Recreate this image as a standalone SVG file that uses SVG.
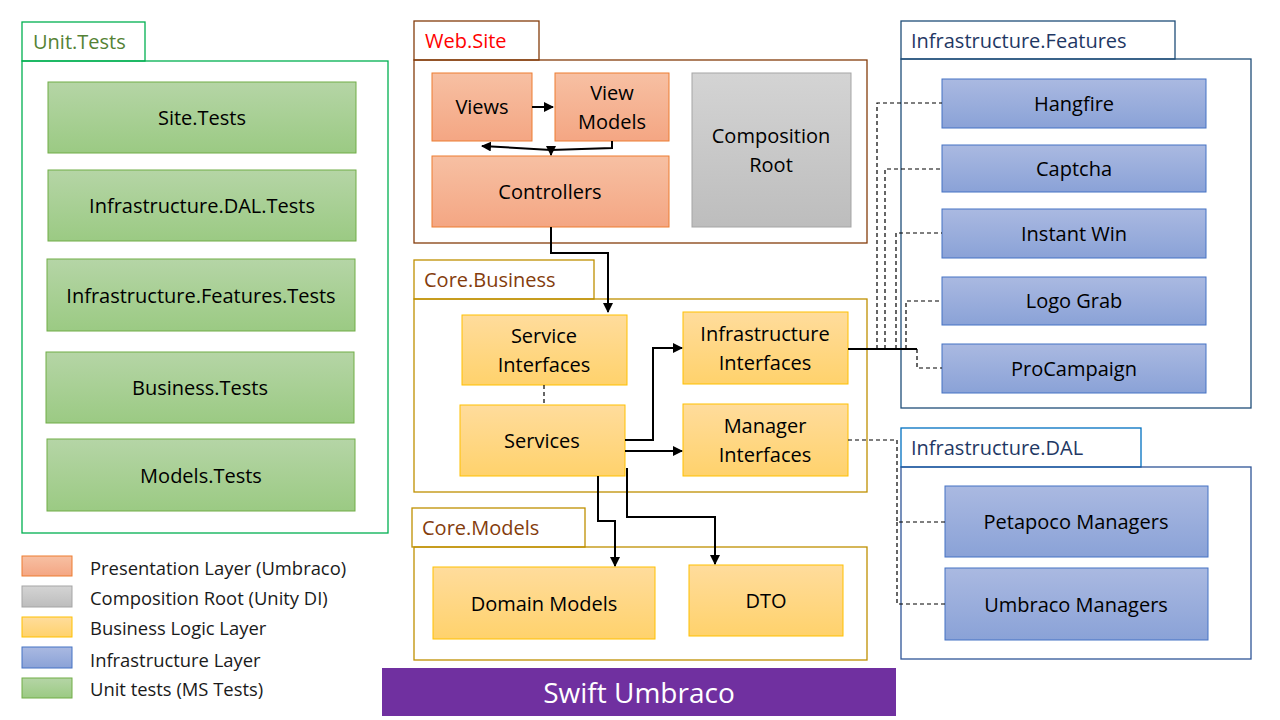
<svg xmlns="http://www.w3.org/2000/svg" width="1280" height="720" viewBox="0 0 1280 720">
<defs>
<linearGradient id="gGreen" x1="0" y1="0" x2="0" y2="1"><stop offset="0" stop-color="#b5d5a6"/><stop offset="1" stop-color="#9bca83"/></linearGradient>
<linearGradient id="gOrange" x1="0" y1="0" x2="0" y2="1"><stop offset="0" stop-color="#f7c0a3"/><stop offset="1" stop-color="#f4a683"/></linearGradient>
<linearGradient id="gGray" x1="0" y1="0" x2="0" y2="1"><stop offset="0" stop-color="#d4d4d4"/><stop offset="1" stop-color="#bdbdbd"/></linearGradient>
<linearGradient id="gYellow" x1="0" y1="0" x2="0" y2="1"><stop offset="0" stop-color="#ffdc9c"/><stop offset="1" stop-color="#ffd26c"/></linearGradient>
<linearGradient id="gBlue" x1="0" y1="0" x2="0" y2="1"><stop offset="0" stop-color="#aab9e1"/><stop offset="1" stop-color="#8aa2d7"/></linearGradient>
<marker id="arr" viewBox="0 0 10 10" refX="9" refY="5" markerWidth="5" markerHeight="5" orient="auto"><path d="M0,0 L10,5 L0,10 z" fill="#000"/></marker>
</defs>
<style>
text{font-family:"Open Sans","Noto Sans","Liberation Sans",sans-serif}
.lbl{font-size:20px;fill:#000;text-anchor:middle;dominant-baseline:central}
.tab{font-size:20px;dominant-baseline:central}
.leg{font-size:18.4px;fill:#1a1a1a;dominant-baseline:central}
.green{fill:url(#gGreen);stroke:#70ad47;stroke-width:1}
.orange{fill:url(#gOrange);stroke:#ed7d31;stroke-width:1}
.gray{fill:url(#gGray);stroke:#a5a5a5;stroke-width:1}
.yellow{fill:url(#gYellow);stroke:#ffc000;stroke-width:1}
.blue{fill:url(#gBlue);stroke:#4472c4;stroke-width:1}
.solid{fill:none;stroke:#000;stroke-width:2}
.dash{fill:none;stroke:#000;stroke-width:1.2;stroke-dasharray:4 3}
</style>
<rect width="1280" height="720" fill="#fff"/>

<!-- Unit.Tests container -->
<g id="unit-tests">
<rect x="22" y="22" width="123" height="39" fill="#fff" stroke="#00b050" stroke-width="1.3"/>
<rect x="22" y="61" width="366" height="472" fill="none" stroke="#00b050" stroke-width="1.3"/>
<text class="tab" x="33" y="41" fill="#548235">Unit.Tests</text>
</g>
<g id="site-tests"><rect class="green" x="48" y="82" width="308" height="71"/><text class="lbl" x="202" y="117">Site.Tests</text></g>
<g id="dal-tests"><rect class="green" x="48" y="170" width="308" height="71"/><text class="lbl" x="202" y="205">Infrastructure.DAL.Tests</text></g>
<g id="features-tests"><rect class="green" x="47" y="259" width="308" height="72"/><text class="lbl" x="201" y="295">Infrastructure.Features.Tests</text></g>
<g id="business-tests"><rect class="green" x="46" y="352" width="308" height="71"/><text class="lbl" x="200" y="387">Business.Tests</text></g>
<g id="models-tests"><rect class="green" x="47" y="439" width="308" height="72"/><text class="lbl" x="201" y="475">Models.Tests</text></g>

<!-- Web.Site container -->
<g id="web-site">
<rect x="414" y="21" width="125" height="39" fill="#fff" stroke="#843c0c" stroke-width="1.3"/>
<rect x="414" y="60" width="453" height="183" fill="none" stroke="#843c0c" stroke-width="1.3"/>
<text class="tab" x="425" y="40" fill="#ff0000">Web.Site</text>
</g>
<g id="views"><rect class="orange" x="432" y="73" width="100" height="68"/><text class="lbl" x="482" y="106">Views</text></g>
<g id="view-models"><rect class="orange" x="555" y="73" width="114" height="68"/><text class="lbl" x="612" y="92">View</text><text class="lbl" x="612" y="121">Models</text></g>
<g id="controllers"><rect class="orange" x="432" y="156" width="237" height="71"/><text class="lbl" x="550" y="191">Controllers</text></g>
<g id="composition-root"><rect class="gray" x="692" y="73" width="159" height="154"/><text class="lbl" x="771" y="135">Composition</text><text class="lbl" x="771" y="164">Root</text></g>

<!-- Core.Business container -->
<g id="core-business">
<rect x="414" y="260" width="180" height="39" fill="#fff" stroke="#bf9000" stroke-width="1.3"/>
<rect x="414" y="299" width="453" height="193" fill="none" stroke="#bf9000" stroke-width="1.3"/>
<text class="tab" x="424" y="279" fill="#843c0c">Core.Business</text>
</g>
<g id="service-interfaces"><rect class="yellow" x="462" y="315" width="165" height="70"/><text class="lbl" x="544" y="335">Service</text><text class="lbl" x="544" y="364">Interfaces</text></g>
<g id="services"><rect class="yellow" x="460" y="405" width="165" height="71"/><text class="lbl" x="542" y="440">Services</text></g>
<g id="infrastructure-interfaces"><rect class="yellow" x="683" y="312" width="165" height="72"/><text class="lbl" x="765" y="333">Infrastructure</text><text class="lbl" x="765" y="362">Interfaces</text></g>
<g id="manager-interfaces"><rect class="yellow" x="683" y="404" width="165" height="72"/><text class="lbl" x="765" y="425">Manager</text><text class="lbl" x="765" y="454">Interfaces</text></g>

<!-- Core.Models container -->
<g id="core-models">
<rect x="412" y="508" width="173" height="39" fill="#fff" stroke="#bf9000" stroke-width="1.3"/>
<rect x="414" y="547" width="453" height="113" fill="none" stroke="#bf9000" stroke-width="1.3"/>
<text class="tab" x="422" y="527" fill="#843c0c">Core.Models</text>
</g>
<g id="domain-models"><rect class="yellow" x="433" y="567" width="222" height="72"/><text class="lbl" x="544" y="603">Domain Models</text></g>
<g id="dto"><rect class="yellow" x="689" y="565" width="154" height="71"/><text class="lbl" x="766" y="600">DTO</text></g>

<!-- Infrastructure.Features container -->
<g id="infrastructure-features">
<rect x="901" y="21" width="274" height="38" fill="#fff" stroke="#1f4e79" stroke-width="1.3"/>
<rect x="901" y="59" width="350" height="349" fill="none" stroke="#1f4e79" stroke-width="1.3"/>
<text class="tab" x="911" y="40" fill="#1f3864">Infrastructure.Features</text>
</g>
<g id="hangfire"><rect class="blue" x="942" y="79" width="264" height="49"/><text class="lbl" x="1074" y="103">Hangfire</text></g>
<g id="captcha"><rect class="blue" x="942" y="145" width="264" height="47"/><text class="lbl" x="1074" y="168">Captcha</text></g>
<g id="instant-win"><rect class="blue" x="942" y="209" width="264" height="49"/><text class="lbl" x="1074" y="233">Instant Win</text></g>
<g id="logo-grab"><rect class="blue" x="942" y="277" width="264" height="48"/><text class="lbl" x="1074" y="300">Logo Grab</text></g>
<g id="procampaign"><rect class="blue" x="942" y="344" width="264" height="49"/><text class="lbl" x="1074" y="368">ProCampaign</text></g>

<!-- Infrastructure.DAL container -->
<g id="infrastructure-dal">
<rect x="901" y="428" width="240" height="39" fill="#fff" stroke="#0070c0" stroke-width="1.3"/>
<rect x="901" y="467" width="350" height="192" fill="none" stroke="#2f5597" stroke-width="1.3"/>
<text class="tab" x="911" y="447" fill="#1f3864">Infrastructure.DAL</text>
</g>
<g id="petapoco-managers"><rect class="blue" x="945" y="486" width="263" height="71"/><text class="lbl" x="1076" y="521">Petapoco Managers</text></g>
<g id="umbraco-managers"><rect class="blue" x="945" y="568" width="263" height="72"/><text class="lbl" x="1076" y="604">Umbraco Managers</text></g>

<!-- Connectors -->
<g id="connectors">
<path class="solid" d="M532,107 H553" marker-end="url(#arr)" stroke-width="1.8"/>
<path class="solid" d="M612,141 V148 L551,150 L482,146" marker-end="url(#arr)" stroke-width="1.8"/>
<path class="solid" d="M551,148 V155" marker-end="url(#arr)" stroke-width="1.8"/>
<path class="solid" d="M551,227 V253 H608 V312" marker-end="url(#arr)"/>
<path class="dash" d="M544,385 V405"/>
<path class="solid" d="M625,440 H653 V348 H682" marker-end="url(#arr)"/>
<path class="solid" d="M625,451 H682" marker-end="url(#arr)"/>
<path class="solid" d="M598,476 V521 H615 V566" marker-end="url(#arr)"/>
<path class="solid" d="M627,468 V517 H715 V564" marker-end="url(#arr)"/>
<path class="solid" d="M848,349 H917" stroke-width="1.2"/>
<path class="dash" d="M877,349 V103 H942"/>
<path class="dash" d="M885,349 V169 H942"/>
<path class="dash" d="M896,349 V233 H942"/>
<path class="dash" d="M906,349 V301 H942"/>
<path class="dash" d="M917,349 V368 H942"/>
<path class="dash" d="M848,440 H897 V522 H945"/>
<path class="dash" d="M897,522 V604 H945" stroke="#777" stroke-width="1.8"/>
</g>

<!-- Legend -->
<g id="legend">
<rect class="orange" x="22" y="556" width="50" height="20"/><text class="leg" x="90" y="567">Presentation Layer (Umbraco)</text>
<rect class="gray" x="22" y="586" width="50" height="21"/><text class="leg" x="90" y="597">Composition Root (Unity DI)</text>
<rect class="yellow" x="22" y="617" width="50" height="20"/><text class="leg" x="90" y="627">Business Logic Layer</text>
<rect class="blue" x="22" y="647" width="50" height="21"/><text class="leg" x="90" y="659">Infrastructure Layer</text>
<rect class="green" x="22" y="678" width="50" height="20"/><text class="leg" x="90" y="688">Unit tests (MS Tests)</text>
</g>

<!-- Banner -->
<g id="banner">
<rect x="382" y="668" width="514" height="48" fill="#7030a0"/>
<text x="639" y="692" font-size="28" fill="#fff" text-anchor="middle" dominant-baseline="central">Swift Umbraco</text>
</g>
</svg>
